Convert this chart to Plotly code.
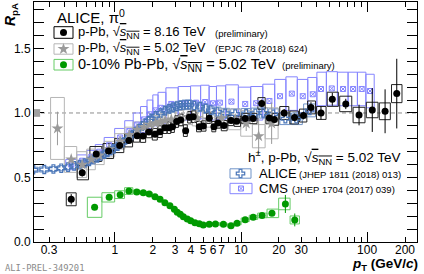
import numpy as np
import plotly.graph_objects as go

# ---------------- data ----------------
# ALICE pi0, p-Pb 8.16 TeV (preliminary)
pi0_816_pt = [0.45, 0.55, 0.71, 0.89, 1.09, 1.29, 1.5, 1.67, 1.86, 2.08, 2.28, 2.49, 2.7, 2.86, 3.09,
              3.32, 3.64, 3.89, 4.18, 4.67, 5.02, 5.6, 6.1, 6.57, 7.33, 8.33, 9.25, 10.8, 12.5, 14.6,
              16.8, 18.4, 22.0, 26.6, 31.3, 35.9, 43.1, 53.0, 67.8, 86.4, 110.0, 139.0, 172.0]
pi0_816_r = [0.331, 0.537, 0.682, 0.705, 0.748, 0.787, 0.824, 0.822, 0.853, 0.835, 0.855, 0.886, 0.886, 0.894, 0.933,
             0.946, 0.863, 0.967, 0.971, 0.894, 0.899, 0.959, 0.894, 0.922, 0.902, 0.942, 0.936, 0.957, 0.957, 1.074,
             0.961, 0.950, 1.0, 0.965, 0.980, 1.043, 1.0, 1.106, 1.07, 0.984, 1.023, 1.013, 1.15]
pi0_816_stat = [0.04, 0.03, 0.02, 0.015, 0.012, 0.012, 0.012, 0.012, 0.012, 0.012, 0.012, 0.012, 0.012, 0.012, 0.012,
                0.012, 0.015, 0.012, 0.012, 0.012, 0.012, 0.012, 0.012, 0.012, 0.012, 0.015, 0.015, 0.015, 0.02, 0.03,
                0.02, 0.02, 0.03, 0.03, 0.03, 0.04, 0.05, 0.05, 0.04, 0.08, 0.17, 0.17, 0.27]
pi0_816_sys = [0.05, 0.055, 0.058, 0.058, 0.055, 0.05, 0.05, 0.05, 0.045, 0.045, 0.045, 0.045, 0.045, 0.045, 0.045,
               0.045, 0.045, 0.045, 0.045, 0.04, 0.04, 0.04, 0.04, 0.04, 0.04, 0.04, 0.04, 0.04, 0.04, 0.045,
               0.045, 0.045, 0.05, 0.05, 0.05, 0.05, 0.05, 0.055, 0.06, 0.06, 0.06, 0.065, 0.07]

# ALICE pi0, p-Pb 5.02 TeV (EPJC 78 (2018) 624)
pi0_502_pt = [0.35, 0.45, 0.55, 0.65, 0.75, 0.9, 1.1, 1.3, 1.5, 1.7, 1.9, 2.1, 2.3, 2.5, 2.8, 3.25,
              3.75, 4.5, 5.5, 7.0, 9.0, 11.0, 13.8, 17.5]
pi0_502_r = [0.88, 0.64, 0.60, 0.64, 0.67, 0.72, 0.78, 0.83, 0.87, 0.89, 0.91, 0.92, 0.93, 0.94, 0.95, 0.96,
             0.97, 0.96, 0.95, 0.96, 0.95, 0.92, 0.82, 0.92]
pi0_502_stat = [0.13, 0.03, 0.03, 0.02, 0.02, 0.02, 0.02, 0.02, 0.02, 0.02, 0.02, 0.02, 0.02, 0.02, 0.02, 0.02,
                0.02, 0.02, 0.02, 0.03, 0.04, 0.06, 0.14, 0.16]
pi0_502_sys = [0.24, 0.10, 0.10, 0.08, 0.07, 0.06, 0.06, 0.06, 0.06, 0.06, 0.06, 0.06, 0.06, 0.06, 0.06, 0.06,
               0.06, 0.06, 0.06, 0.07, 0.08, 0.10, 0.09, 0.12]

# ALICE pi0, 0-10% Pb-Pb 5.02 TeV (preliminary)
pbpb_pt = [0.69, 0.9, 1.1, 1.29, 1.49, 1.68, 1.87, 2.08, 2.28, 2.49, 2.73, 2.96, 3.12, 3.3, 3.49, 3.75,
           3.99, 4.31, 4.67, 5.02, 5.6, 6.27, 7.25, 8.33, 9.31, 10.8, 12.5, 14.7, 17.6, 22.5, 26.7]
pbpb_r = [0.269, 0.346, 0.367, 0.395, 0.388, 0.382, 0.372, 0.351, 0.331, 0.305, 0.281, 0.253, 0.23, 0.215, 0.196, 0.178,
          0.165, 0.15, 0.142, 0.132, 0.137, 0.14, 0.137, 0.126, 0.145, 0.172, 0.191, 0.206, 0.222, 0.295, 0.171]
pbpb_stat = [0.01, 0.008, 0.006, 0.005, 0.005, 0.005, 0.005, 0.005, 0.005, 0.005, 0.005, 0.005, 0.005, 0.005, 0.005, 0.005,
             0.005, 0.005, 0.005, 0.005, 0.005, 0.005, 0.006, 0.006, 0.007, 0.008, 0.01, 0.012, 0.016, 0.07, 0.05]
pbpb_sys = [0.078, 0.036, 0.03, 0.026, 0.014, 0.012, 0.012, 0.012, 0.011, 0.011, 0.01, 0.01, 0.01, 0.01, 0.01, 0.01,
            0.01, 0.01, 0.01, 0.01, 0.01, 0.01, 0.01, 0.01, 0.012, 0.014, 0.016, 0.018, 0.033, 0.045, 0.031]

# ALICE h+-, p-Pb 5.02 TeV (JHEP 1811 (2018) 013)
alice_h_pt = [0.225, 0.275, 0.325, 0.375, 0.425, 0.475, 0.525, 0.575, 0.625, 0.675, 0.725, 0.775, 0.825, 0.875,
              0.925, 0.975, 1.05, 1.15, 1.25, 1.35, 1.45, 1.55, 1.65, 1.75, 1.85, 1.95, 2.1, 2.3, 2.5, 2.7,
              2.9, 3.1, 3.3, 3.5, 3.7, 3.9, 4.25, 4.75, 5.25, 5.75, 6.5, 7.5, 9.0, 11.0, 13.0, 15.0, 18.0,
              22.5, 27.5, 35.0]
alice_h_r = [0.560, 0.562, 0.566, 0.572, 0.580, 0.590, 0.600, 0.612, 0.624, 0.637, 0.652, 0.666, 0.680, 0.694,
             0.708, 0.722, 0.742, 0.770, 0.797, 0.825, 0.852, 0.877, 0.900, 0.920, 0.940, 0.957, 0.978, 1.000, 1.018, 1.032,
             1.043, 1.052, 1.058, 1.062, 1.064, 1.064, 1.058, 1.048, 1.035, 1.022, 1.008, 0.998, 0.992, 0.995, 0.998, 1.0, 0.99,
             0.955, 0.955, 1.02]
alice_h_sys = [0.02, 0.02, 0.02, 0.02, 0.02, 0.02, 0.022, 0.022, 0.023, 0.023, 0.024, 0.024, 0.025, 0.025,
               0.026, 0.026, 0.027, 0.028, 0.029, 0.03, 0.031, 0.032, 0.033, 0.034, 0.035, 0.035, 0.036, 0.036, 0.037, 0.037,
               0.038, 0.038, 0.038, 0.038, 0.038, 0.038, 0.038, 0.038, 0.038, 0.038, 0.038, 0.038, 0.04, 0.04, 0.04, 0.04, 0.042,
               0.045, 0.045, 0.05]

# CMS h+-, p-Pb 5.02 TeV (JHEP 1704 (2017) 039)
cms_pt = [0.45, 0.55, 0.65, 0.75, 0.9, 1.1, 1.3, 1.5, 1.7, 1.9, 2.1, 2.3, 2.8, 3.6, 4.4, 5.2, 6.0, 6.8,
          8.4, 10.8, 13.2, 16.8, 20.4, 25.3, 30.9, 37.1, 43.1, 52.5, 64.5, 77.5, 90.7, 105.6]
cms_r = [0.60, 0.63, 0.66, 0.70, 0.75, 0.81, 0.86, 0.91, 0.95, 0.99, 1.02, 1.04, 1.07, 1.075, 1.08, 1.085, 1.075, 1.08,
         1.088, 1.07, 1.075, 1.093, 1.13, 1.15, 1.13, 1.145, 1.186, 1.19, 1.186, 1.186, 1.186, 1.17]
cms_sys = [0.04, 0.045, 0.05, 0.055, 0.06, 0.07, 0.08, 0.09, 0.10, 0.11, 0.12, 0.12, 0.125, 0.13, 0.13, 0.13, 0.13, 0.13,
           0.13, 0.13, 0.13, 0.13, 0.13, 0.13, 0.13, 0.13, 0.13, 0.13, 0.13, 0.13, 0.13, 0.13]

x_tick_vals = [0.3, 1, 2, 3, 4, 5, 6, 7, 10, 20, 30, 100, 200]
x_tick_text = ["0.3", "1", "2", "3", "4", "5", "6", "7", "10", "20", "30", "100", "200"]
x_small_ticks = [0.4, 0.5, 0.6, 0.7, 0.8, 0.9, 8, 9, 40, 50, 60, 70, 80, 90]
x_decade_ticks = [1, 10, 100]
y_tick_vals = [0.0, 0.5, 1.0, 1.5]
y_tick_text = ["0.0", "0.5", "1.0", "1.5"]

# ---------------- layout constants ----------------
W, H = 424, 274
ML, MR, MT, MB = 34, 7, 2, 32
X_RANGE = [np.log10(0.228), np.log10(249)]
Y_RANGE = [0, 1.86]
FONT = "Liberation Sans, Arial, sans-serif"

BLACK = "#000000"
GREY_M = "#9a9a9a"
GREY_B = "#b5b5b5"
GREEN_M = "#009900"
GREEN_B = "#66cc66"
STEEL_M = "#4a76b8"
STEEL_B = "#6f93c8"
CMS_C = "#8585ff"


def box_edges(pt, frac):
    lp = np.log10(np.asarray(pt, dtype=float))
    mids = (lp[1:] + lp[:-1]) / 2
    left = np.concatenate([[lp[0] - (mids[0] - lp[0])], mids])
    right = np.concatenate([mids, [lp[-1] + (lp[-1] - mids[-1])]])
    lo = lp - (lp - left) * frac
    hi = lp + (right - lp) * frac
    return 10 ** lo, 10 ** hi


def box_xy(pt, r, sys, frac):
    lo, hi = box_edges(pt, frac)
    xs, ys = [], []
    for a, b, c, d in zip(lo, hi, r, sys):
        xs += [a, b, b, a, a, None]
        ys += [c - d, c - d, c + d, c + d, c - d, None]
    return xs, ys


fig = go.Figure()


def add_boxes(pt, r, sys, frac, color, width=1):
    xs, ys = box_xy(pt, r, sys, frac)
    fig.add_trace(go.Scatter(x=xs, y=ys, mode="lines", line=dict(color=color, width=width),
                             hoverinfo="skip", showlegend=False))


def add_points(pt, r, stat, marker, ecolor):
    kw = {}
    if stat is not None:
        kw["error_y"] = dict(type="data", array=stat, width=0, thickness=1, color=ecolor)
    fig.add_trace(go.Scatter(x=pt, y=r, mode="markers", marker=marker, hoverinfo="skip",
                             showlegend=False, **kw))


# systematic boxes
add_boxes(cms_pt, cms_r, cms_sys, 1.0, CMS_C)
add_boxes(alice_h_pt, alice_h_r, alice_h_sys, 0.9, STEEL_B)
add_boxes(pi0_502_pt, pi0_502_r, pi0_502_sys, 1.0, GREY_B)
add_boxes(pi0_816_pt, pi0_816_r, pi0_816_sys, 0.9, "#222222")
add_boxes(pbpb_pt, pbpb_r, pbpb_sys, 1.0, GREEN_B)

# points
add_points(cms_pt, cms_r, None, dict(symbol="square-x-open", size=5, color=CMS_C, line=dict(width=1)), CMS_C)
add_points(alice_h_pt, alice_h_r, None, dict(symbol="cross-open", size=7, color=STEEL_M, line=dict(width=1.2)), STEEL_M)
add_points(pi0_502_pt, pi0_502_r, pi0_502_stat, dict(symbol="star", size=9, color=GREY_M, line=dict(width=0)), GREY_M)
add_points(pbpb_pt, pbpb_r, pbpb_stat, dict(symbol="circle", size=7, color=GREEN_M, line=dict(width=0)), GREEN_M)
add_points(pi0_816_pt, pi0_816_r, pi0_816_stat, dict(symbol="circle", size=7, color=BLACK, line=dict(width=0)), BLACK)

# empty trace to activate the decade-tick axis
fig.add_trace(go.Scatter(x=[], y=[], xaxis="x2", yaxis="y", showlegend=False, hoverinfo="skip"))

# ---------------- legends (pixel coordinates on overlay axes x3/y3) ----------------
leg_markers = [
    (63.5, 32.5, dict(symbol="circle", size=7, color=BLACK)),
    (63.5, 49.0, dict(symbol="star", size=9, color=GREY_M)),
    (63.5, 64.7, dict(symbol="circle", size=7, color=GREEN_M)),
    (240.5, 173.5, dict(symbol="cross-open", size=7, color=STEEL_M, line=dict(width=1.2))),
    (241.0, 188.5, dict(symbol="square-x-open", size=5, color=CMS_C, line=dict(width=1))),
]
for lx, ly, mk in leg_markers:
    fig.add_trace(go.Scatter(x=[lx], y=[ly], mode="markers", marker=mk, xaxis="x3", yaxis="y3",
                             showlegend=False, hoverinfo="skip", cliponaxis=False))

shapes = []
leg_boxes = [
    (54, 73, 32.5, 5.8, BLACK),
    (54, 73, 49.0, 5.2, GREY_B),
    (54, 73, 64.7, 5.3, GREEN_B),
    (230, 251, 173.5, 4.7, STEEL_B),
    (230, 252, 188.5, 5.2, CMS_C),
]
for x0, x1, yc, hh, col in leg_boxes:
    shapes.append(dict(type="rect", xref="x3", yref="y3", x0=x0, x1=x1, y0=yc - hh, y1=yc + hh,
                       line=dict(color=col, width=1), fillcolor="rgba(0,0,0,0)"))

# dashed line at unity and normalisation box
shapes.append(dict(type="line", xref="x domain", yref="y", x0=0, x1=1, y0=1, y1=1,
                   line=dict(color="#8c8c8c", width=1, dash="4px,3px"), layer="below"))
shapes.append(dict(type="rect", xref="x domain", yref="y", x0=0, x1=0.016, y0=0.97, y1=1.03,
                   fillcolor="#a0a0a0", line=dict(width=0)))

SQ = '√<span style="text-decoration:overline"><i>s</i><sub>NN</sub></span>'
annos = []
PW = W - ML - MR
PH = H - MT - MB


def txt(x, y, s, size, anchor="left", color="black", angle=0, family=FONT):
    # x, y in page pixels -> paper coordinates
    annos.append(dict(x=(x - ML) / PW, y=(H - MB - y) / PH, xref="paper", yref="paper", text=s,
                      showarrow=False, xanchor=anchor, yanchor="middle", textangle=angle,
                      font=dict(size=size, color=color, family=family)))


txt(54.5, 16, "ALICE, π<sup>0</sup>", 15)
txt(76, 32.5, "p-Pb, " + SQ + " = 8.16 TeV", 13)
txt(213, 33, "(preliminary)", 9.5)
txt(76, 49, "p-Pb, " + SQ + " = 5.02 TeV", 13)
txt(213, 49, "(EPJC 78 (2018) 624)", 9.5)
txt(76, 65, "0-10% Pb-Pb, " + SQ + " = 5.02 TeV", 14.5)
txt(280, 65.5, "(preliminary)", 9.5)

txt(246, 157, "h<sup>±</sup>, p-Pb, " + SQ + " = 5.02 TeV", 13.5)
txt(257, 173.5, "ALICE", 13)
txt(297, 174, "(JHEP 1811 (2018) 013)", 9.5)
txt(257, 188.5, "CMS", 13)
txt(290, 189, "(JHEP 1704 (2017) 039)", 9.5)

txt(11, 15, "<b><i>R</i><sub>pA</sub></b>", 14, anchor="center", angle=-90)
txt(420, 264, "<b><i>p</i><sub>T</sub> (GeV/<i>c</i>)</b>", 13.5, anchor="right")
txt(3, 268, "ALI-PREL-349201", 8.8, color="#8a8a8a", family="DejaVu Sans Mono, monospace")

axis_common = dict(showgrid=False, zeroline=False, ticks="inside", tickcolor="black", tickwidth=1,
                   tickfont=dict(family=FONT, size=12, color="black"))

fig.update_layout(
    width=W, height=H,
    margin=dict(l=ML, r=MR, t=MT, b=MB, pad=0),
    paper_bgcolor="white", plot_bgcolor="white",
    showlegend=False,
    xaxis=dict(type="log", range=X_RANGE, tickmode="array", tickvals=x_tick_vals, ticktext=x_tick_text,
               ticklen=5, tickangle=0, ticklabelstandoff=-3, showline=True, linecolor="black",
               linewidth=1, mirror="allticks",
               minor=dict(tickmode="array", tickvals=x_small_ticks, ticklen=5, ticks="inside",
                          tickcolor="black", tickwidth=1),
               **axis_common),
    xaxis2=dict(type="log", range=X_RANGE, overlaying="x", anchor="y", tickmode="array",
                tickvals=x_decade_ticks, ticklen=10, showticklabels=False, showline=False,
                mirror="allticks", showgrid=False, zeroline=False, ticks="inside",
                tickcolor="black", tickwidth=1),
    yaxis=dict(range=Y_RANGE, tickmode="array", tickvals=y_tick_vals, ticktext=y_tick_text,
               ticklen=10, showline=True, linecolor="black", linewidth=1, mirror="allticks",
               minor=dict(tickmode="linear", tick0=0, dtick=0.1, ticklen=5, ticks="inside",
                          tickcolor="black", tickwidth=1),
               **axis_common),
    xaxis3=dict(range=[ML, W - MR], overlaying="x", anchor="y3", visible=False, fixedrange=True),
    yaxis3=dict(range=[H - MB, MT], overlaying="y", anchor="x3", visible=False, fixedrange=True),
    shapes=shapes,
    annotations=annos,
    font=dict(family=FONT, color="black"),
)

fig.write_html("out.html", config={"displayModeBar": False},
               post_script="document.body.style.margin='0px';")
